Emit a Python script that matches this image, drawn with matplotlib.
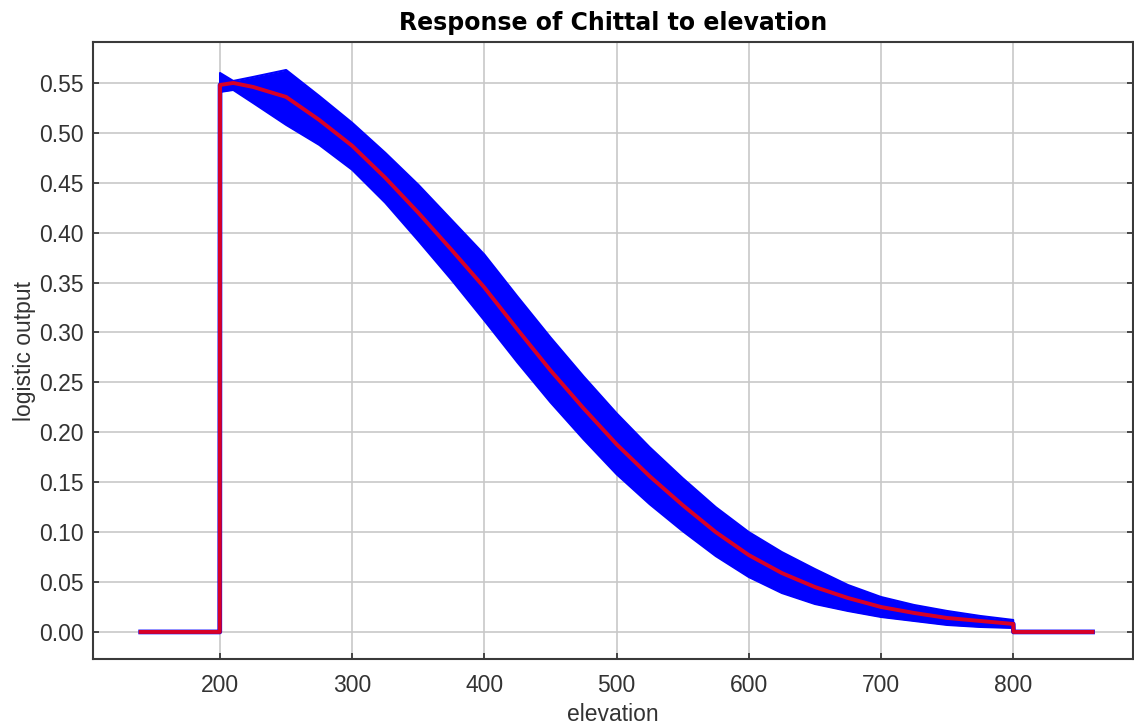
import matplotlib.pyplot as plt

# response curve values
elevation = [140, 199.8, 200, 210, 225, 250, 275, 300, 325, 350, 375, 400, 425, 450, 475,
             500, 525, 550, 575, 600, 625, 650, 675, 700, 725, 750, 775, 800, 800.2, 860]
mean_resp = [0, 0, 0.548, 0.550, 0.546, 0.536, 0.513, 0.487, 0.455, 0.420, 0.383, 0.345, 0.303,
             0.262, 0.224, 0.188, 0.156, 0.127, 0.100, 0.077, 0.059, 0.045, 0.034, 0.025,
             0.019, 0.014, 0.011, 0.008, 0, 0]
upper = [0, 0, 0.560, 0.552, 0.556, 0.563, 0.537, 0.510, 0.480, 0.448, 0.413, 0.378, 0.336,
         0.295, 0.256, 0.219, 0.185, 0.154, 0.125, 0.100, 0.080, 0.063, 0.047, 0.035,
         0.027, 0.021, 0.016, 0.012, 0, 0]
lower = [0, 0, 0.541, 0.543, 0.530, 0.508, 0.488, 0.463, 0.430, 0.392, 0.353, 0.312, 0.270,
         0.230, 0.193, 0.158, 0.128, 0.101, 0.076, 0.055, 0.039, 0.028, 0.021, 0.015,
         0.011, 0.007, 0.005, 0.004, 0, 0]

x_ticks = [200, 300, 400, 500, 600, 700, 800]
y_ticks = [0.0, 0.05, 0.10, 0.15, 0.20, 0.25, 0.30, 0.35, 0.40, 0.45, 0.50, 0.55]

plt.rcParams['font.family'] = ['Liberation Sans', 'DejaVu Sans']

fig = plt.figure(figsize=(11.34, 7.26), dpi=100)
ax = fig.add_axes([0.082, 0.0923, 0.9171, 0.8498])

ax.fill_between(elevation, lower, upper, color='#0000ff', lw=0, zorder=2)
ax.plot(elevation, upper, color='#0000ff', lw=1.5, zorder=2)
ax.plot(elevation, lower, color='#0000ff', lw=1.5, zorder=2)
ax.plot(elevation, mean_resp, color='#0000ff', lw=3.4, zorder=2)
ax.plot(elevation, mean_resp, color='#ff0000', alpha=0.85, lw=2.8, zorder=3)

ax.set_xlim(103.9, 890.6)
ax.set_ylim(-0.0271, 0.591)
ax.set_xticks(x_ticks)
ax.set_yticks(y_ticks)
ax.set_yticklabels(['%.2f' % v for v in y_ticks])
ax.grid(True, color='#c8c8c8', lw=1.2, zorder=0)
ax.set_axisbelow(True)

for s in ax.spines.values():
    s.set_color('#3a3a3a')
    s.set_linewidth(1.5)
ax.tick_params(axis='both', direction='in', length=4, width=1.3, color='#3a3a3a',
               labelsize=16.5, labelcolor='#333333', right=True)
ax.tick_params(axis='x', pad=11)
ax.tick_params(axis='y', pad=7)

ax.set_title('Response of Chittal to elevation', family='DejaVu Sans', fontweight='bold',
             fontsize=17, pad=9)
ax.set_xlabel('elevation', fontsize=16.5, color='#333333', labelpad=4)
ax.set_ylabel('logistic output', fontsize=16.5, color='#333333', labelpad=2)

fig.savefig('out.png', dpi=100)
